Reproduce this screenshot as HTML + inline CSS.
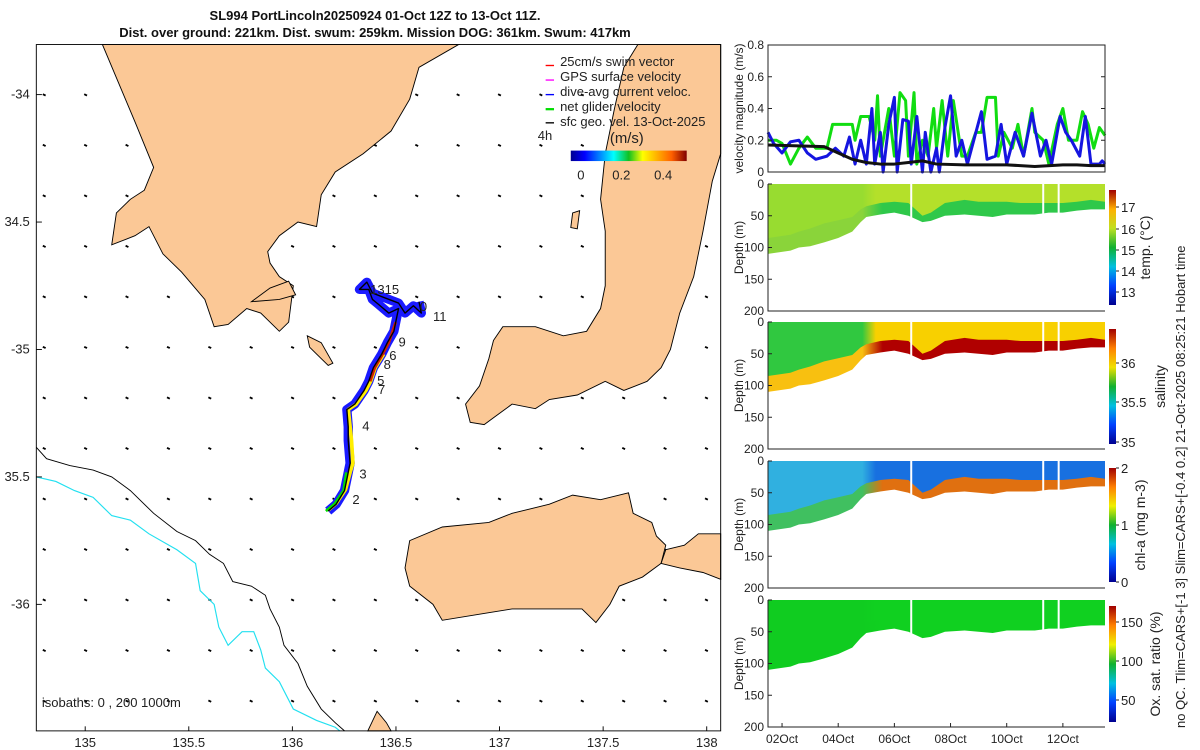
<!DOCTYPE html>
<html><head><meta charset="utf-8"><style>
body{margin:0;width:1200px;height:750px;background:#fff;position:relative;overflow:hidden;font-family:"Liberation Sans",sans-serif}
svg{position:absolute}
text{font-family:"Liberation Sans",sans-serif;fill:#222}
.t{position:absolute;left:0;width:750px;text-align:center;font-weight:bold;font-size:13px;color:#111}
</style></head><body>
<div class="t" style="top:8px">SL994 PortLincoln20250924 01-Oct 12Z to 13-Oct 11Z.</div>
<div class="t" style="top:25px">Dist. over ground: 221km. Dist. swum: 259km. Mission DOG: 361km. Swum: 417km</div>

<svg id="map" style="left:0;top:40px" width="730" height="710" viewBox="0 0 1568 1560" preserveAspectRatio="none">
<g id="arrows"></g>
<g fill="#fbc896" stroke="#000" stroke-width="2">
<polygon points="220,10 290,180 330,280 310,330 280,350 250,380 240,450 290,430 320,410 350,470 390,510 440,570 460,630 490,625 530,590 560,600 600,640 620,620 630,540 600,520 580,490 575,465 600,430 640,400 680,410 690,340 720,290 780,250 840,200 880,130 900,60 985,10"/>
<polygon points="660,650 690,665 715,710 705,715 680,690 665,675"/>
<polygon points="540,575 580,545 620,530 635,560 600,570"/>
<polygon points="1370,10 1548,10 1548,250 1530,310 1510,420 1490,520 1460,600 1440,680 1420,720 1390,750 1340,770 1300,750 1240,780 1180,790 1150,810 1100,800 1060,830 1040,845 1010,840 1000,800 1030,760 1050,700 1060,660 1080,630 1150,630 1210,650 1260,640 1290,590 1300,540 1300,420 1290,350 1300,250 1320,150 1340,60"/>
<polygon points="1230,380 1245,375 1240,415 1226,412"/>
<polygon points="880,1100 950,1070 1050,1060 1100,1040 1180,1020 1230,1000 1290,1010 1350,995 1360,1040 1400,1060 1410,1090 1430,1110 1420,1150 1380,1180 1330,1200 1310,1240 1280,1280 1250,1250 1200,1250 1100,1250 1040,1260 950,1275 930,1240 880,1200 870,1160"/>
<polygon points="1430,1120 1470,1110 1500,1085 1548,1085 1548,1185 1510,1170 1460,1160 1420,1150"/>
<polygon points="790,1518 810,1475 830,1500 840,1518"/>
</g>
<polyline fill="none" stroke="#000" stroke-width="2" points="78,895 100,920 150,935 200,945 240,960 280,990 330,1040 380,1080 420,1100 450,1130 480,1150 500,1190 540,1200 570,1220 580,1250 600,1290 610,1330 640,1370 660,1420 690,1470 720,1500 740,1518"/>
<polyline fill="none" stroke="#22e0f0" stroke-width="2.5" points="78,960 120,970 160,990 200,1005 240,1045 280,1055 320,1085 380,1120 420,1150 430,1210 460,1240 470,1290 490,1330 520,1300 545,1300 560,1340 570,1380 600,1410 630,1470 680,1495 720,1510 730,1518"/>
<g fill="none" stroke-linejoin="round">
<polyline stroke="#1a1aff" stroke-width="20" points="705,1035 722,1020 740,990 748,950 752,930 748,880 748,850 745,812 762,800 782,770 792,750 802,720 820,690 832,665 846,640 856,590 835,600 812,580 800,570 792,548 772,548 788,532 800,556 856,578 870,600 888,584 905,600 900,575"/>
<polyline stroke="#ffee00" stroke-width="8" points="705,1033 722,1018 742,988 752,950 758,930 755,880 752,850 748,812 765,800 786,770 796,750 806,720 824,690"/>
<polyline stroke="#00dd00" stroke-width="6" points="700,1035 718,1020 738,990 744,950" />
<polyline stroke="#d02000" stroke-width="6" points="795,750 805,720 822,690 835,665 850,620"/>
<polyline stroke="#000" stroke-width="3" points="705,1035 722,1020 740,990 748,950 752,930 748,880 748,850 745,812 762,800 782,770 792,750 802,720 820,690 832,665 846,640 856,590 835,600 812,580 800,570 792,548 772,548 788,532 800,556 856,578 870,600 888,584 905,600 900,575"/>
</g>
<g font-size="28">
<text x="757" y="1020">2</text><text x="772" y="963">3</text><text x="778" y="858">4</text><text x="810" y="758">5</text><text x="812" y="778">7</text><text x="836" y="703">6</text><text x="824" y="723">8</text><text x="856" y="673">9</text><text x="930" y="617">11</text><text x="795" y="558">1315</text><text x="902" y="595">0</text>
</g>
<g font-size="28">
<line x1="1172" y1="56" x2="1190" y2="56" stroke="#f00" stroke-width="3"/><text x="1203" y="57">25cm/s swim vector</text>
<line x1="1172" y1="88" x2="1190" y2="88" stroke="#f0f" stroke-width="3"/><text x="1203" y="90">GPS surface velocity</text>
<line x1="1172" y1="120" x2="1190" y2="120" stroke="#00f" stroke-width="3"/><text x="1203" y="123">dive-avg current veloc.</text>
<line x1="1172" y1="152" x2="1190" y2="152" stroke="#0d0" stroke-width="5"/><text x="1203" y="156">net glider velocity</text>
<line x1="1172" y1="182" x2="1190" y2="182" stroke="#000" stroke-width="3"/><text x="1203" y="189">sfc geo. vel. 13-Oct-2025</text>
<text x="1155" y="220">4h</text><text x="1310" y="226" font-size="32">(m/s)</text>
<defs><linearGradient id="jet" x1="0" x2="1" y1="0" y2="0"><stop offset="0" stop-color="#00008f"/><stop offset="0.12" stop-color="#0000ff"/><stop offset="0.37" stop-color="#00ffff"/><stop offset="0.5" stop-color="#10c020"/><stop offset="0.62" stop-color="#ffff00"/><stop offset="0.87" stop-color="#ff6000"/><stop offset="1" stop-color="#800000"/></linearGradient></defs>
<rect x="1226" y="243" width="249" height="23" fill="url(#jet)"/>
<text x="1240" y="306">0</text><text x="1315" y="306">0.2</text><text x="1405" y="306">0.4</text>
</g>
<text x="90" y="1465" font-size="28">isobaths: 0 , 200  1000m</text>
<rect x="78" y="10" width="1470" height="1508" fill="none" stroke="#000" stroke-width="2"/>
<g id="mapticks" font-size="28"></g>
</svg>

<svg id="right" style="left:0;top:0" width="1200" height="750">
<g id="panels"></g>
<text transform="translate(1185,728) rotate(-90)" font-size="13">no QC. Tlim=CARS+[-1 3] Slim=CARS+[-0.4 0.2] 21-Oct-2025 08:25:21 Hobart time</text>
</svg>

<script>
// ---- velocity series (days of Oct, m/s)
const netT=[1.5,1.8,2.0,2.3,2.6,2.9,3.2,3.6,3.8,4.2,4.5,4.6,4.8,5.1,5.3,5.4,5.5,5.8,6.0,6.2,6.4,6.5,6.7,6.8,7.0,7.2,7.4,7.5,7.7,7.9,8.1,8.4,8.6,8.9,9.1,9.3,9.6,9.7,9.9,10.2,10.4,10.6,10.9,11.0,11.3,11.5,11.8,12.0,12.2,12.5,12.7,12.9,13.1,13.3,13.5];
const netV=[0.2,0.2,0.18,0.05,0.15,0.22,0.15,0.15,0.3,0.3,0.3,0.2,0.35,0.35,0.2,0.48,0.1,0.4,0.1,0.5,0.45,0.1,0.5,0.05,0.2,0.1,0.4,0.15,0.45,0.1,0.45,0.1,0.1,0.25,0.25,0.47,0.47,0.1,0.25,0.15,0.3,0.1,0.4,0.25,0.2,0.05,0.3,0.4,0.2,0.2,0.38,0.3,0.15,0.28,0.23];
const curT=[1.5,1.7,2.0,2.3,2.6,2.9,3.2,3.6,3.9,4.2,4.4,4.6,4.8,5.0,5.2,5.3,5.5,5.6,5.8,6.0,6.1,6.3,6.5,6.6,6.8,7.0,7.1,7.3,7.5,7.6,7.8,8.0,8.2,8.4,8.6,9.1,9.3,9.6,9.8,10.0,10.3,10.6,10.9,11.2,11.4,11.6,11.9,12.1,12.3,12.6,12.8,13.0,13.3,13.4,13.5];
const curV=[0.25,0.18,0.12,0.19,0.2,0.12,0.08,0.1,0.15,0.1,0.22,0.05,0.2,0.05,0.4,0.05,0.25,0,0.3,0.47,0,0.33,0.32,0.05,0.35,0,0.25,0,0.15,0,0.28,0.48,0.1,0.2,0.05,0.38,0.08,0.1,0.3,0.05,0.25,0.1,0.37,0.1,0.2,0.05,0.35,0.25,0.2,0.1,0.35,0.05,0.05,0.07,0.05];
const geoT=[1.5,3.5,4.0,4.5,5.0,5.5,6.0,6.5,7.0,7.5,8.5,10.0,11.0,12.0,12.5,13.0,13.5];
const geoV=[0.17,0.16,0.12,0.08,0.06,0.05,0.05,0.06,0.07,0.05,0.045,0.045,0.035,0.045,0.045,0.04,0.04];
// ---- depth structure (m)
const profT=[1.5,2.3,2.6,3.0,3.5,4.0,4.5,4.8,5.0,5.5,6.0,6.5,7.0,7.3,7.8,8.5,9.0,9.5,10.0,10.5,11.0,11.5,12.0,12.5,13.0,13.5];
const bottomD=[110,105,100,98,92,85,75,60,52,48,45,50,60,58,50,48,50,52,48,48,48,45,45,42,40,40];
const clineD=[85,80,75,70,62,57,52,40,35,30,28,30,50,45,30,25,28,28,28,30,30,30,30,28,25,28];
const gapT=[6.6,11.3,11.85];
const dateTicks=["02Oct","04Oct","06Oct","08Oct","10Oct","12Oct"];
const dateTickDay=[2,4,6,8,10,12];
const velTicks=[0,0.2,0.4,0.6,0.8];
const depthTicks=[0,50,100,150,200];

const NS='http://www.w3.org/2000/svg';
function mk(p,tag,a){const e=document.createElementNS(NS,tag);for(const k in a)e.setAttribute(k,a[k]);p.appendChild(e);return e;}
const X0=768,X1=1105;
const xT=t=>X0+(t-1.5)*(X1-X0)/12;
const P=document.getElementById('panels');

const vTop=45,vBot=172;
const yV=v=>vBot-v/0.8*(vBot-vTop);
function line(T,V,col,w,name){const el=mk(P,'polyline',{points:T.map((t,i)=>xT(t)+','+yV(V[i])).join(' '),fill:'none',stroke:col,'stroke-width':w,'stroke-linejoin':'round'});

}
line(netT,netV,'#11dd11',3,'net-glider-velocity-line');
line(curT,curV,'#1515e0',3,'dive-avg-current-line');
line(geoT,geoV,'#111',3,'sfc-geo-velocity-line');
const vf=mk(P,'rect',{x:X0,y:vTop,width:X1-X0,height:vBot-vTop,fill:'none',stroke:'#222'});


velTicks.forEach(v=>{const t=mk(P,'text',{x:X0-4,y:yV(v)+4,'text-anchor':'end','font-size':12});t.textContent=v;


mk(P,'line',{x1:X0,x2:X0+4,y1:yV(v),y2:yV(v),stroke:'#222'});mk(P,'line',{x1:X1,x2:X1-4,y1:yV(v),y2:yV(v),stroke:'#222'});});
const vl=mk(P,'text',{transform:`translate(743,${(vTop+vBot)/2}) rotate(-90)`,'text-anchor':'middle','font-size':12});vl.textContent='velocity magnitude (m/s)';



const panels=[
 {top:184,name:'temperature',label:'temp. (°C)',up:'#b4e02a',upL:'#98dc30',low:'#2fc84a',lowL:'#8ad43a',cb:['#00008f','#0040ff','#00c0e0','#10b030','#c0e020','#ffb000','#a00000'],ticks:[[17,207],[16,229],[15,250],[14,271],[13,292]],cbTop:190,cbBot:305,lx:1150},
 {top:322,name:'salinity',label:'salinity',up:'#f8d000',upL:'#30c840',low:'#b00000',lowL:'#f8c010',cb:['#00008f','#0040ff','#00c0e0','#10b030','#f0e000','#ff8000','#a00000'],ticks:[[36,363],[35.5,402],[35,442]],cbTop:329,cbBot:444,lx:1165},
 {top:461,name:'chlorophyll',label:'chl-a (mg m-3)',up:'#1870e0',upL:'#30b0e0',low:'#e07010',lowL:'#40c060',cb:['#00008f','#0040ff','#00c0e0','#10b030','#f0f000','#ff8000','#a00000'],ticks:[[2,468],[1,525],[0,582]],cbTop:468,cbBot:582,lx:1145},
 {top:600,name:'oxygen',label:'Ox. sat. ratio (%)',up:'#10d020',upL:'#10cc20',low:'#10d020',lowL:'#10cc20',cb:['#00008f','#0040ff','#00c0e0','#10b030','#f0f000','#ff8000','#a00000'],ticks:[[150,622],[100,661],[50,700]],cbTop:606,cbBot:722,lx:1160}
];
panels.forEach((p,pi)=>{
 const H=127, yD=d=>p.top+d/200*H;
 const g=mk(P,'g',{});
 
 
 const gid='g'+pi;
 const defs=mk(g,'defs',{});
 const lg=mk(defs,'linearGradient',{id:gid,x1:0,x2:1,y1:0,y2:0});
 mk(lg,'stop',{offset:0,'stop-color':p.upL});mk(lg,'stop',{offset:0.28,'stop-color':p.upL});mk(lg,'stop',{offset:0.32,'stop-color':p.up});mk(lg,'stop',{offset:1,'stop-color':p.up});
 const lg2=mk(defs,'linearGradient',{id:gid+'b',x1:0,x2:1,y1:0,y2:0});
 mk(lg2,'stop',{offset:0,'stop-color':p.lowL});mk(lg2,'stop',{offset:0.28,'stop-color':p.lowL});mk(lg2,'stop',{offset:0.34,'stop-color':p.low});mk(lg2,'stop',{offset:1,'stop-color':p.low});
 const top=profT.map(t=>xT(t)+','+yD(0)).join(' ');
 const bot=profT.map((t,i)=>xT(t)+','+yD(bottomD[i])).reverse().join(' ');
 const cl=profT.map((t,i)=>xT(t)+','+yD(clineD[i])).reverse().join(' ');
 mk(g,'polygon',{points:top+' '+bot,fill:`url(#${gid}b)`});
 mk(g,'polygon',{points:top+' '+cl,fill:`url(#${gid})`});
 gapT.forEach(t=>mk(g,'line',{x1:xT(t),x2:xT(t),y1:p.top-2,y2:yD(70),stroke:'#fff','stroke-width':2}));
 mk(g,'polyline',{points:`${X0},${p.top} ${X0},${p.top+H} ${X1},${p.top+H}`,fill:'none',stroke:'#222'});
 depthTicks.forEach(d=>{const t=mk(g,'text',{x:X0-4,y:yD(d)+4,'text-anchor':'end','font-size':12});t.textContent=d;
 mk(g,'line',{x1:X0,x2:X0+4,y1:yD(d),y2:yD(d),stroke:'#222'});});
 const yl=mk(g,'text',{transform:`translate(743,${p.top+H/2}) rotate(-90)`,'text-anchor':'middle','font-size':12});yl.textContent='Depth (m)';
 
 
 const cg=mk(defs,'linearGradient',{id:gid+'c',x1:0,x2:0,y1:1,y2:0});
 p.cb.forEach((c,i)=>mk(cg,'stop',{offset:i/(p.cb.length-1),'stop-color':c}));
 const cb=mk(g,'rect',{x:1109,y:p.cbTop,width:7,height:p.cbBot-p.cbTop,fill:`url(#${gid}c)`});
 
 
 p.ticks.forEach(([v,y])=>{const t=mk(g,'text',{x:1121,y:y+5,'font-size':13});t.textContent=v;mk(g,'line',{x1:1116,x2:1119,y1:y,y2:y,stroke:'#222'});});
 const cl2=mk(g,'text',{transform:`translate(${p.lx},${(p.cbTop+p.cbBot)/2}) rotate(-90)`,'text-anchor':'middle','font-size':14});cl2.textContent=p.label;
 
 
 if(pi==3){dateTicks.forEach((s,i)=>{const x=xT(dateTickDay[i]);mk(g,'line',{x1:x,x2:x,y1:p.top+H,y2:p.top+H-4,stroke:'#222'});
 const t=mk(g,'text',{x:x,y:p.top+H+16,'text-anchor':'middle','font-size':12});t.textContent=s;
 
 });}
});

const lonTicks=[135,135.5,136,136.5,137,137.5,138];
const latTicks=[-34,-34.5,-35,-35.5,-36];
const latLabels=["-34","34.5","-35","35.5","-36"];
const xLon=l=>183+(l-135)*445;
const yLat=l=>120+(-34-l)*560;
const M=document.getElementById('mapticks');
lonTicks.forEach(l=>{const t=mk(M,'text',{x:xLon(l),y:1553,'text-anchor':'middle'});t.textContent=l;
 
 
 mk(M,'line',{x1:xLon(l),x2:xLon(l),y1:1518,y2:1508,stroke:'#000','stroke-width':2});});
latTicks.forEach((l,i)=>{const t=mk(M,'text',{x:64,y:yLat(l)+9,'text-anchor':'end'});t.textContent=latLabels[i];
 
 
 mk(M,'line',{x1:78,x2:90,y1:yLat(l),y2:yLat(l),stroke:'#000','stroke-width':2});});
const A=document.getElementById('arrows');
const arrLon=[134.8,135,135.2,135.4,135.6,135.8,136,136.2,136.4,136.6,136.8,137,137.2,137.4,137.6,137.8,138];
const arrLat=[-34,-34.2,-34.4,-34.6,-34.8,-35,-35.2,-35.4,-35.6,-35.8,-36,-36.2,-36.4];
arrLat.forEach(la=>arrLon.forEach(lo=>{const x=95+(lo-134.8)*445*0.9+ (lo-134.8)*44, y=120+(-34-la)*555;
 mk(A,'line',{x1:x-3,y1:y-1,x2:x+3,y2:y+2,stroke:'#000','stroke-width':4});}));
</script>
</body></html>
